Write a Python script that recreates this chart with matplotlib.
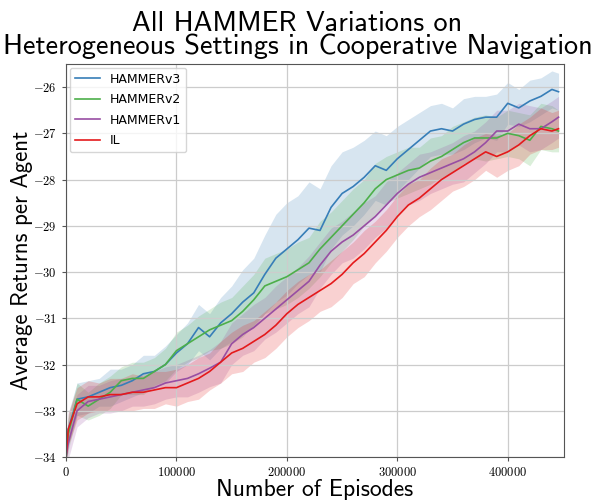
import matplotlib
matplotlib.use('Agg')
import matplotlib.pyplot as plt
from matplotlib.ticker import FuncFormatter
import numpy as np

plt.rcParams['mathtext.fontset'] = 'cm'

episodes = [0, 2000, 10000, 20000, 30000, 40000, 50000, 60000, 70000, 80000, 90000,
            100000, 110000, 120000, 130000, 140000, 150000, 160000, 170000, 180000, 190000,
            200000, 210000, 220000, 230000, 240000, 250000, 260000, 270000, 280000, 290000,
            300000, 310000, 320000, 330000, 340000, 350000, 360000, 370000, 380000, 390000,
            400000, 410000, 420000, 430000, 440000, 446000]

hammer_v3 = [-34.0, -33.4, -32.75, -32.7, -32.6, -32.5, -32.45, -32.35, -32.2, -32.15, -32.0,
             -31.75, -31.55, -31.2, -31.4, -31.1, -30.9, -30.65, -30.45, -30.05, -29.7,
             -29.5, -29.3, -29.05, -29.1, -28.6, -28.3, -28.15, -27.95, -27.7, -27.8,
             -27.55, -27.35, -27.15, -26.95, -26.9, -26.95, -26.8, -26.7, -26.65, -26.65,
             -26.35, -26.45, -26.3, -26.2, -26.05, -26.1]
hammer_v3_sd = [0.3, 0.35, 0.35, 0.35, 0.3, 0.4, 0.35, 0.35, 0.4, 0.35, 0.4,
                0.4, 0.45, 0.5, 0.5, 0.55, 0.6, 0.7, 0.75, 0.85, 0.95,
                1.0, 0.95, 1.0, 0.9, 0.9, 0.9, 0.85, 0.8, 0.75, 0.75,
                0.7, 0.65, 0.6, 0.55, 0.55, 0.5, 0.55, 0.5, 0.45, 0.5,
                0.45, 0.4, 0.45, 0.4, 0.4, 0.4]

hammer_v2 = [-34.0, -33.5, -32.75, -32.9, -32.75, -32.6, -32.35, -32.3, -32.3, -32.15, -32.0,
             -31.7, -31.55, -31.4, -31.25, -31.15, -31.05, -30.85, -30.6, -30.3, -30.2,
             -30.1, -29.95, -29.8, -29.5, -29.25, -29.0, -28.75, -28.5, -28.2, -28.0,
             -27.9, -27.8, -27.75, -27.6, -27.5, -27.35, -27.2, -27.1, -27.1, -27.1,
             -27.0, -27.05, -27.15, -26.85, -26.9, -26.95]
hammer_v2_sd = [0.3, 0.35, 0.35, 0.3, 0.35, 0.35, 0.3, 0.35, 0.35, 0.3, 0.35,
                0.4, 0.4, 0.45, 0.45, 0.5, 0.5, 0.55, 0.55, 0.6, 0.6,
                0.6, 0.6, 0.55, 0.6, 0.55, 0.55, 0.55, 0.5, 0.55, 0.5,
                0.5, 0.5, 0.45, 0.5, 0.45, 0.5, 0.45, 0.45, 0.5, 0.45,
                0.5, 0.5, 0.55, 0.5, 0.5, 0.45]

hammer_v1 = [-34.0, -33.7, -33.0, -32.8, -32.75, -32.7, -32.65, -32.6, -32.55, -32.5, -32.4,
             -32.35, -32.3, -32.2, -32.08, -31.95, -31.55, -31.35, -31.2, -31.0, -30.8,
             -30.6, -30.4, -30.2, -29.85, -29.55, -29.35, -29.2, -29.0, -28.8, -28.55,
             -28.3, -28.1, -27.95, -27.85, -27.75, -27.65, -27.55, -27.4, -27.2, -26.95,
             -26.95, -26.8, -26.9, -26.9, -26.75, -26.65]
hammer_v1_sd = [0.3, 0.35, 0.35, 0.35, 0.3, 0.35, 0.35, 0.3, 0.35, 0.35, 0.35,
                0.35, 0.4, 0.4, 0.4, 0.45, 0.45, 0.45, 0.5, 0.45, 0.5,
                0.5, 0.5, 0.55, 0.5, 0.5, 0.45, 0.5, 0.5, 0.45, 0.5,
                0.45, 0.45, 0.5, 0.45, 0.45, 0.45, 0.5, 0.45, 0.45, 0.45,
                0.45, 0.45, 0.5, 0.45, 0.45, 0.45]

il = [-34.0, -33.4, -32.85, -32.7, -32.7, -32.65, -32.65, -32.6, -32.6, -32.55, -32.5,
      -32.5, -32.4, -32.3, -32.15, -31.95, -31.75, -31.65, -31.5, -31.35, -31.15,
      -30.9, -30.7, -30.55, -30.4, -30.25, -30.05, -29.8, -29.6, -29.35, -29.1,
      -28.8, -28.55, -28.4, -28.2, -28.0, -27.85, -27.7, -27.55, -27.4, -27.5,
      -27.4, -27.25, -27.05, -26.9, -26.95, -26.9]
il_sd = [0.3, 0.35, 0.35, 0.35, 0.3, 0.35, 0.35, 0.4, 0.35, 0.4, 0.35,
         0.4, 0.4, 0.45, 0.4, 0.45, 0.45, 0.5, 0.45, 0.5, 0.5,
         0.5, 0.5, 0.5, 0.45, 0.5, 0.5, 0.45, 0.5, 0.45, 0.45,
         0.45, 0.45, 0.4, 0.45, 0.45, 0.4, 0.45, 0.45, 0.4, 0.45,
         0.4, 0.45, 0.4, 0.45, 0.4, 0.4]

series = [
    ('HAMMERv3', hammer_v3, hammer_v3_sd, '#377eb8'),
    ('HAMMERv2', hammer_v2, hammer_v2_sd, '#4daf4a'),
    ('HAMMERv1', hammer_v1, hammer_v1_sd, '#984ea3'),
    ('IL', il, il_sd, '#e41a1c'),
]

fig = plt.figure(figsize=(5.95, 5.0), dpi=100)
ax = fig.add_axes([0.111, 0.086, 0.837, 0.786])

x = np.array(episodes)
for name, mean, sd, color in series:
    mean = np.array(mean)
    sd = np.array(sd)
    ax.plot(x, mean, color=color, lw=1.2, label=name)
    ax.fill_between(x, mean - sd, mean + sd, color=color, alpha=0.2, lw=0)

ax.set_xlim(0, 451000)
ax.set_ylim(-34, -25.5)
ax.set_xticks([0, 100000, 200000, 300000, 400000])
ax.set_yticks([-34, -33, -32, -31, -30, -29, -28, -27, -26])
fmt = FuncFormatter(lambda v, p: '$%d$' % v)
ax.xaxis.set_major_formatter(fmt)
ax.yaxis.set_major_formatter(fmt)
ax.tick_params(labelsize=9, color='#555555', length=3)
ax.grid(True, color='#cccccc', lw=0.9)
for s in ax.spines.values():
    s.set_color('#555555')

fig.suptitle('All HAMMER Variations on\nHeterogeneous Settings in Cooperative Navigation',
             family='cmss10', fontsize=20.3, linespacing=0.88, x=0.5, y=0.978, va='top')
ax.set_xlabel('Number of Episodes', family='cmss10', fontsize=17, labelpad=0)
ax.set_ylabel('Average Returns per Agent', family='cmss10', fontsize=16.5, labelpad=0)

ax.legend(loc='upper left', fontsize=9, labelspacing=0.6, framealpha=0.8,
          edgecolor='#cccccc', borderaxespad=0.3)

fig.savefig('out.png', dpi=100)
